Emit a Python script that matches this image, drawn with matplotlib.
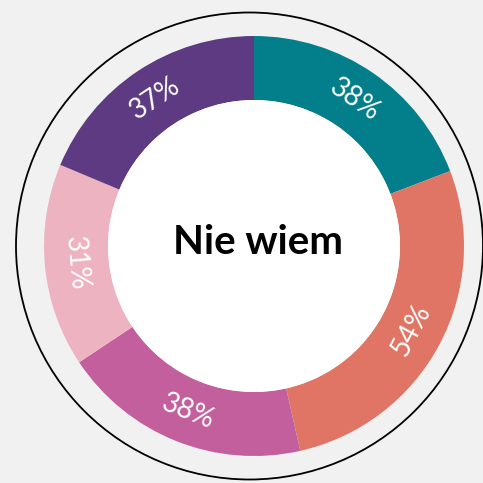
import matplotlib
matplotlib.use('Agg')
import matplotlib.pyplot as plt
from matplotlib.patches import Circle
import numpy as np

# slice values, clockwise from the top
values = [38, 54, 38, 31, 37]
labels = ['38%', '54%', '38%', '31%', '37%']
colors_ = ['#027F8B', '#E07565', '#C45F9D', '#EEB3C1', '#5E3A82']
title = 'Nie wiem'

W = H = 483
fig = plt.figure(figsize=(W / 100, H / 100), dpi=100)
fig.patch.set_facecolor('#F1F1F1')
ax = fig.add_axes([0, 0, 1, 1])
ax.set_xlim(0, W)
ax.set_ylim(0, H)
ax.set_aspect('equal')
ax.axis('off')

cx, cy = 254, H - 246
r_out, r_in = 210, 146

# thin outline ring around everything
ax.add_patch(Circle((249.5, H - 246), 233.5, fill=False, edgecolor='black', linewidth=1.3))

wedges, _ = ax.pie(values, colors=colors_, startangle=90, counterclock=False,
                   radius=r_out, center=(cx, cy),
                   wedgeprops=dict(width=r_out - r_in, linewidth=0))
ax.set_xlim(0, W)
ax.set_ylim(0, H)

ax.add_patch(Circle((cx, cy), r_in, facecolor='white', edgecolor='none'))

r_mid = (r_out + r_in) / 2
for w, lab in zip(wedges, labels):
    a = np.deg2rad((w.theta1 + w.theta2) / 2)
    x = cx + r_mid * np.cos(a)
    y = cy + r_mid * np.sin(a)
    rot = np.rad2deg(a) - 90
    if np.sin(a) < 0:
        rot += 180
    ax.text(x, y, lab, color='white', fontsize=20, fontweight='normal',
            family='Lato', rotation=rot, rotation_mode='anchor',
            ha='center', va='center')

ax.text(258, H - 242, title, fontsize=29, fontweight='bold', family='Lato',
        color='black', ha='center', va='center')

fig.savefig('out.png', dpi=100, facecolor=fig.get_facecolor())
